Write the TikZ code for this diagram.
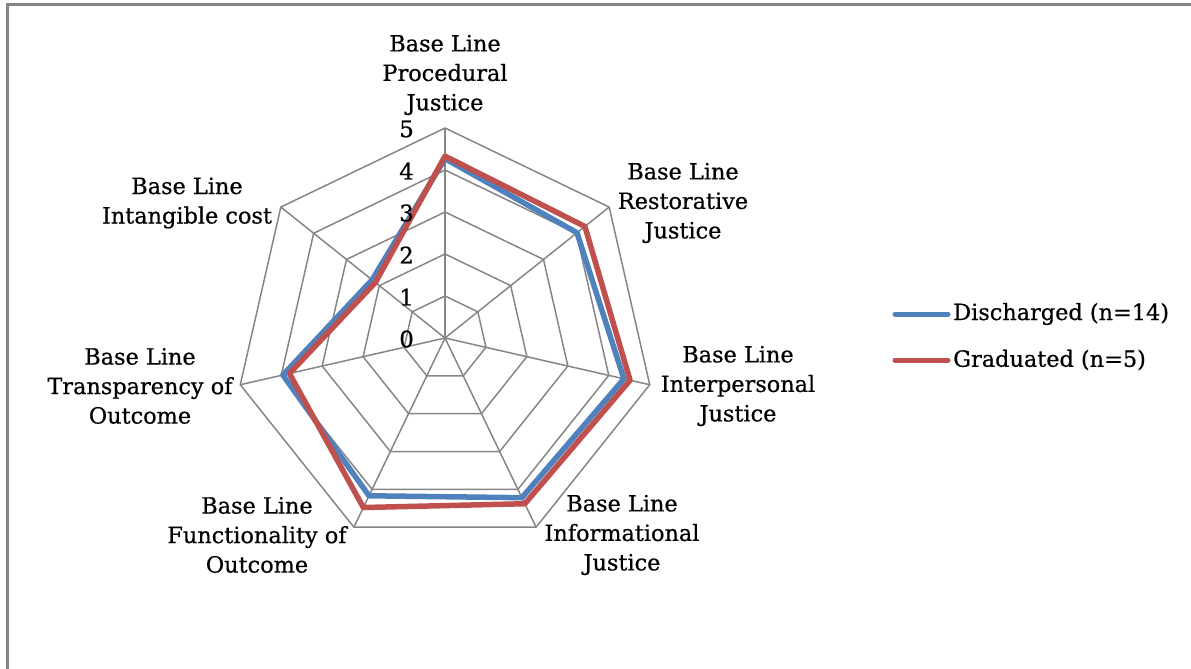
\documentclass[tikz,border=0pt]{standalone}
\usepackage{fontspec}
\setmainfont{DejaVu Serif}[FakeBold=0.6]
\definecolor{serblue}{HTML}{4F81BD}
\definecolor{serred}{HTML}{C0504D}
\definecolor{gridgray}{HTML}{868686}
\definecolor{framegray}{HTML}{848484}
\tikzset{
  gridline/.style={draw=gridgray, line width=1.5pt},
  mainspoke/.style={draw=gridgray, line width=2.2pt},
  blueser/.style={draw=serblue, line width=5.5pt, line join=round},
  redser/.style={draw=serred, line width=5.5pt, line join=round},
  legline/.style={line width=5pt, line cap=round},
  lbl/.style={align=center, inner sep=0pt, font=\fontsize{22.4}{29.5}\selectfont},
  tick/.style={anchor=east, inner sep=0pt, font=\fontsize{22.8}{26}\selectfont},
  frameline/.style={draw=framegray, line width=2.5pt}
}
\begin{document}
\begin{tikzpicture}[x=1pt,y=-1pt]
\useasboundingbox (0,0) rectangle (1191,669);
\draw[frameline] (1200,4.5) -- (7.5,4.5) -- (7.5,680);
\begin{scope}[shift={(445,338)}, y=1pt]
  % grid rings
  \foreach \r in {1,...,5}{
    \draw[gridline] (90:42*\r) \foreach \k in {1,...,6}{ -- ({90-\k*360/7}:{42*\r}) } -- cycle;
  }
  % spokes
  \coordinate (ctr) at (0,0);
  \foreach \k in {1,...,6}{
    \coordinate (ax\k) at ({90-\k*360/7}:210);
    \draw[gridline] (ctr) -- (ax\k);
  }
  \coordinate (ax0) at (90:210);
  \draw[mainspoke] (ctr) -- (ax0);
  % data
  \foreach \v [count=\k from 0] in {4.27,4.02,4.37,4.22,4.17,3.96,2.22}
    \coordinate (b\k) at ({90-\k*360/7}:{\v*42});
  \foreach \v [count=\k from 0] in {4.33,4.26,4.52,4.38,4.48,3.80,2.12}
    \coordinate (g\k) at ({90-\k*360/7}:{\v*42});
  \draw[blueser] (b0) -- (b1) -- (b2) -- (b3) -- (b4) -- (b5) -- (b6) -- cycle;
  \draw[redser] (g0) -- (g1) -- (g2) -- (g3) -- (g4) -- (g5) -- (g6) -- cycle;
\end{scope}
% tick labels
\foreach \t in {0,...,5}
  \node[tick] (t\t) at (414,{339-42*\t}) {\t};
% category labels
\node[lbl] (c0) at (445,75) {Base Line\\Procedural\\Justice};
\node[lbl] (c1) at (683,203) {Base Line\\Restorative\\Justice};
\node[lbl] (c2) at (738,386) {Base Line\\Interpersonal\\Justice};
\node[lbl] (c3) at (622,535) {Base Line\\Informational\\Justice};
\node[lbl] (c4) at (257,535) {Base Line\\Functionality of\\Outcome};
\node[lbl] (c5) at (140,386) {Base Line\\Transparency of\\Outcome};
\node[lbl] (c6) at (187,203) {Base Line\\Intangible cost};
% legend
\node[lbl, anchor=west] (lg1) at (953,314) {Discharged (n=14)};
\node[lbl, anchor=west] (lg2) at (953,360) {Graduated (n=5)};
\coordinate (l1) at (895,314);
\coordinate (l2) at (895,360);
\draw[legline, draw=serblue] (l1) -- ([xshift=-5pt]lg1.west);
\draw[legline, draw=serred] (l2) -- ([xshift=-5pt]lg2.west);
\end{tikzpicture}
\end{document}
